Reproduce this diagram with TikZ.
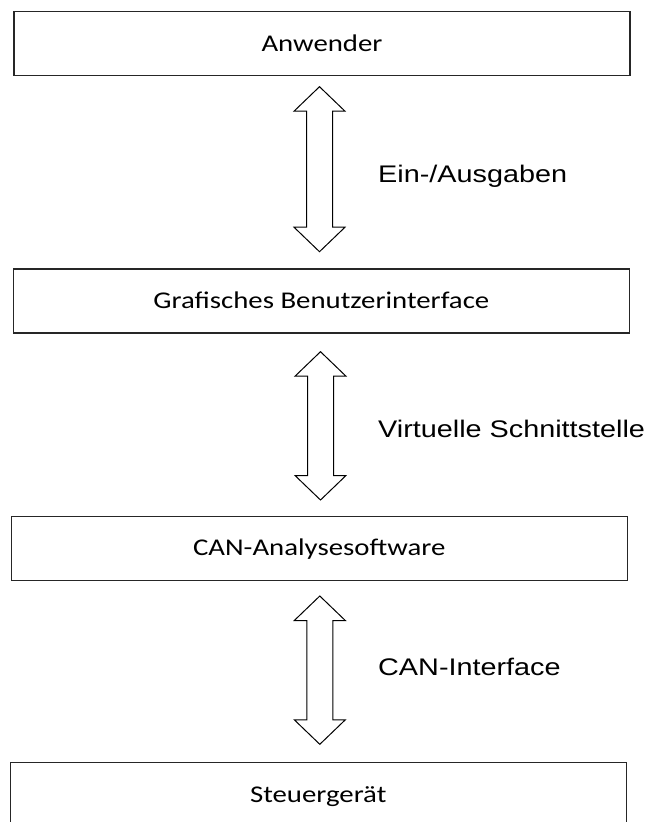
\documentclass[tikz,border=0pt]{standalone}
\usepackage{fontspec}
\usetikzlibrary{calc}
\newfontfamily\boxfont[FakeStretch=1.2]{Carlito}
\newfontfamily\labfont[FakeStretch=1.2]{Liberation Sans}

\tikzset{
  layer/.style={draw=black!85, line width=1.3pt, fill=white, rectangle,
    minimum width=616pt, minimum height=64pt, inner sep=0pt,
    text height=15.5pt, text depth=0pt,
    font=\boxfont\fontsize{24}{29}\selectfont},
  arrowline/.style={draw=black, line width=1pt, line join=miter, fill=white},
  iflabel/.style={anchor=base west, inner sep=0pt,
    font=\labfont\fontsize{24}{29}\selectfont}
}

% double-headed block arrow between two tip coordinates (#1 top, #2 bottom)
\newcommand{\blockarrow}[2]{%
  \draw[arrowline] (#1) -- ++(-25.5,-24.5) -- ++(12.5,0)
    -- ($(#2)+(-13,24.5)$) -- ++(-12.5,0) -- (#2) -- ++(25.5,24.5)
    -- ++(-12.5,0) -- ($(#1)+(13,-24.5)$) -- ++(12.5,0) -- cycle;}

\begin{document}
\begin{tikzpicture}[x=1pt, y=1pt]
  \clip (0,0) rectangle (653,-822);
  \useasboundingbox (0,0) rectangle (653,-822);

  % the four layers
  \node[layer] (anw) at (322,-43.7) {Anwender};
  \node[layer] (gui) at (321.3,-300.9) {Grafisches Benutzerinterface};
  \node[layer] (can) at (319.2,-548.2) {CAN-Analysesoftware};
  \node[layer] (ecu) at (318.2,-794.3) {Steuergerät};

  % arrow tips
  \coordinate (a1t) at (319.5,-86.7);
  \coordinate (a1b) at (319.5,-251.7);
  \coordinate (a2t) at (320.5,-351.7);
  \coordinate (a2b) at (320.5,-500);
  \coordinate (a3t) at (319.8,-596);
  \coordinate (a3b) at (319.8,-744.3);

  \blockarrow{a1t}{a1b}
  \blockarrow{a2t}{a2b}
  \blockarrow{a3t}{a3b}

  % interface labels
  \node[iflabel] (l1) at (378,-182) {Ein-/Ausgaben};
  \node[iflabel] (l2) at (378,-437) {Virtuelle Schnittstelle};
  \node[iflabel] (l3) at (378,-675) {CAN-Interface};
\end{tikzpicture}
\end{document}
